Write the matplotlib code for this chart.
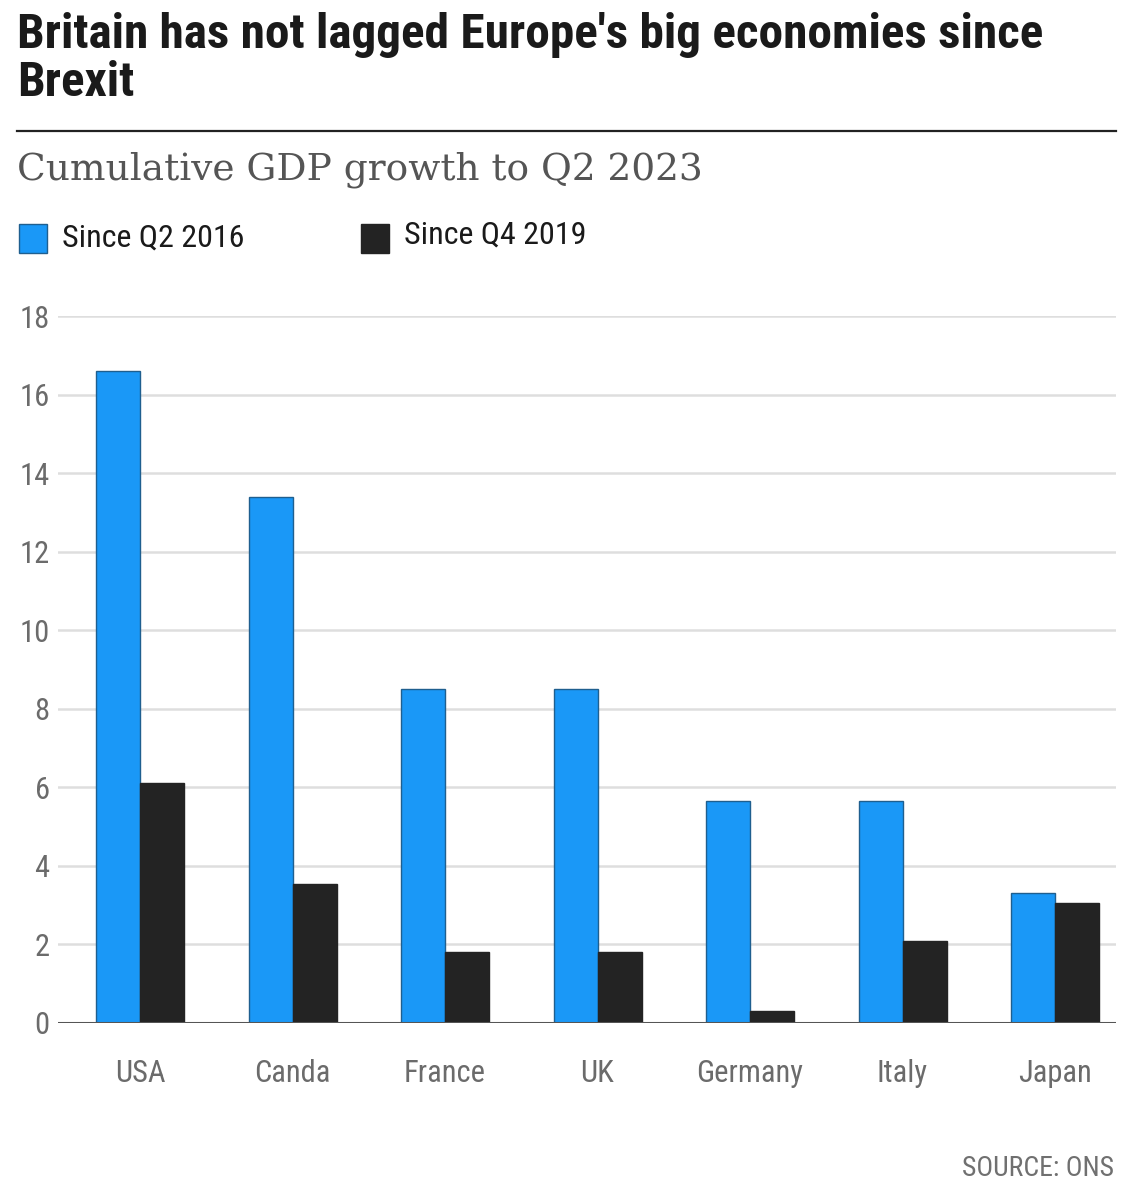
import matplotlib
matplotlib.use("Agg")
import matplotlib.pyplot as plt
from matplotlib import font_manager
import numpy as np

countries = ["USA", "Canda", "France", "UK", "Germany", "Italy", "Japan"]
since_2016 = [16.6, 13.4, 8.5, 8.5, 5.65, 5.65, 3.3]
since_2019 = [6.1, 3.55, 1.8, 1.8, 0.3, 2.1, 3.05]
series_names = ["Since Q2 2016", "Since Q4 2019"]
yticks = [0, 2, 4, 6, 8, 10, 12, 14, 16, 18]

BLUE = "#1a98f7"
BLACK = "#232323"
GRAY = "#6b6b6b"

names = {f.name for f in font_manager.fontManager.ttflist}
def pick(*fams):
    for f in fams:
        if f in names:
            return f
    return "DejaVu Sans"

narrow = pick("Roboto Condensed", "Liberation Sans Narrow", "DejaVu Sans")
serif = pick("DejaVu Serif", "Liberation Serif")

W, H = 1127, 1200
fig = plt.figure(figsize=(W / 100, H / 100), dpi=100)

def fx(px):
    return px / W
def fy(py):
    return 1 - py / H

# Title
fig.text(fx(17), fy(48), "Britain has not lagged Europe's big economies since",
         fontfamily=narrow, fontweight="bold", fontsize=35.5, color="#1a1a1a",
         va="baseline", ha="left")
fig.text(fx(17), fy(96), "Brexit",
         fontfamily=narrow, fontweight="bold", fontsize=35.5, color="#1a1a1a",
         va="baseline", ha="left")
# rule
fig.add_artist(plt.Line2D([fx(17), fx(1116)], [fy(131), fy(131)],
                          color="#222222", lw=1.6, transform=fig.transFigure))
# subtitle
fig.text(fx(17), fy(180), "Cumulative GDP growth to Q2 2023",
         fontfamily=serif, fontsize=27, color="#555555",
         va="baseline", ha="left")

# legend
fig.add_artist(plt.Rectangle((fx(19), fy(253)), fx(28), 29 / H, facecolor=BLUE,
                             edgecolor="#1f5f8f", lw=1, transform=fig.transFigure))
fig.text(fx(62), fy(238), series_names[0], fontfamily=narrow, fontsize=23,
         color="#1a1a1a", va="center", ha="left")
fig.add_artist(plt.Rectangle((fx(361), fy(253)), fx(28), 29 / H, facecolor=BLACK,
                             edgecolor=BLACK, lw=1, transform=fig.transFigure))
fig.text(fx(404), fy(235), series_names[1], fontfamily=narrow, fontsize=23,
         color="#1a1a1a", va="center", ha="left")

# axes
ax_left, ax_right = 58, 1116
ax_top, ax_bottom = 316, 1023
ax = fig.add_axes([fx(ax_left), fy(ax_bottom), fx(ax_right - ax_left),
                   (ax_bottom - ax_top) / H])
x = np.arange(len(countries))
step = (1055 - 140) / 6.0
bw = 44 / step
ax.bar(x - bw / 2, since_2016, width=bw, color=BLUE, edgecolor="#1f5f8f",
       linewidth=1, zorder=3)
ax.bar(x + bw / 2, since_2019, width=bw, color=BLACK, edgecolor=BLACK,
       linewidth=1, zorder=3)
ax.set_xlim(-(140 - ax_left) / step, 6 + (ax_right - 1055) / step)
ax.set_ylim(0, 18)
ax.set_yticks(yticks)
ax.set_yticklabels([str(t) for t in yticks])
ax.set_xticks(x)
ax.set_xticklabels(countries)
for s in ["top", "right", "left", "bottom"]:
    ax.spines[s].set_visible(False)
ax.grid(axis="y", color="#dedede", lw=1.8, zorder=0)
ax.axhline(0, color="#555555", lw=2.2, zorder=4)
ax.tick_params(axis="both", length=0, labelsize=22, labelcolor=GRAY)
ax.tick_params(axis="y", pad=6)
ax.tick_params(axis="x", pad=26)
for lab in ax.get_xticklabels() + ax.get_yticklabels():
    lab.set_fontfamily(narrow)

fig.text(fx(1114), fy(1168), "SOURCE: ONS", fontfamily=narrow, fontsize=20,
         color="#707070", va="center", ha="right")

fig.savefig("out.png", dpi=100, facecolor="white")
